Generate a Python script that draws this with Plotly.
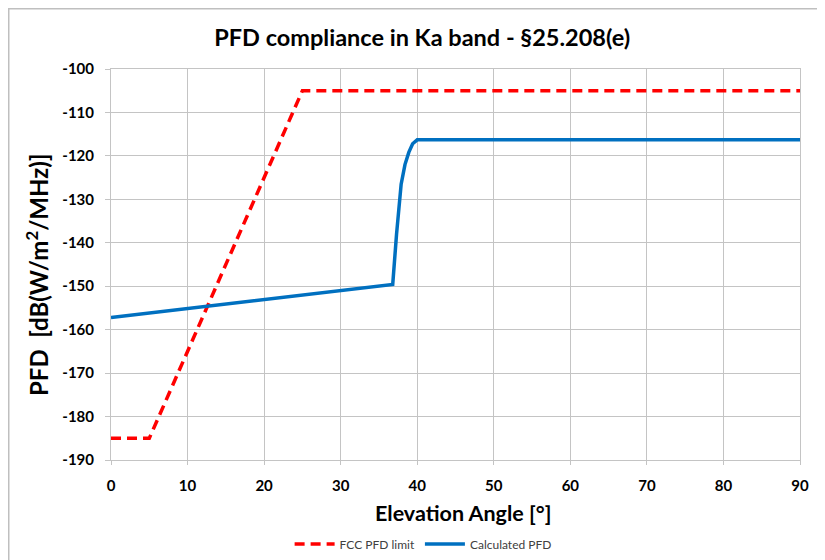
"""PFD compliance plot."""

import plotly.graph_objects as go

# FCC PFD limit (dB(W/m2/MHz)) vs elevation angle (deg)
ELEV_FCC = [0, 5, 25, 90]
PFD_FCC = [-185, -185, -105, -105]

# Calculated PFD
ELEV_CALC = [0, 36.8, 37.3, 37.9, 38.4, 38.9, 39.4, 40, 90]
PFD_CALC = [-157.2, -149.6, -138, -126.5, -122, -119.2, -117.2, -116.3, -116.3]

# Tick labels (plain hyphen, as in the reference)
Y_TICKS = [-190, -180, -170, -160, -150, -140, -130, -120, -110, -100]
Y_TICK_TEXT = ["-190", "-180", "-170", "-160", "-150",
               "-140", "-130", "-120", "-110", "-100"]
X_TICKS = [0, 10, 20, 30, 40, 50, 60, 70, 80, 90]

FONT = "Lato, Open Sans, sans-serif"
GRID = "#C4C4C4"

fig = go.Figure()
fig.add_trace(
    go.Scatter(
        x=ELEV_FCC,
        y=PFD_FCC,
        mode="lines",
        name="FCC PFD limit",
        line=dict(color="#FF0000", width=3.5, dash="10px,6px"),
    )
)
fig.add_trace(
    go.Scatter(
        x=ELEV_CALC,
        y=PFD_CALC,
        mode="lines",
        name="Calculated PFD",
        line=dict(color="#0070C0", width=3.5),
    )
)

axis_style = dict(
    showgrid=True,
    gridcolor=GRID,
    showline=True,
    linecolor=GRID,
    mirror=True,
    ticks="outside",
    tickcolor=GRID,
    zeroline=False,
    automargin=False,
    tickfont=dict(size=15, color="#000000", family=FONT, weight="bold"),
)
fig.update_xaxes(range=[0, 90], tickvals=X_TICKS, ticklen=4,
                 ticklabelstandoff=8, **axis_style)
fig.update_yaxes(range=[-190, -100], tickvals=Y_TICKS, ticktext=Y_TICK_TEXT,
                 ticklen=5, ticklabelstandoff=8, **axis_style)

fig.update_layout(
    width=817,
    height=552,
    plot_bgcolor="white",
    paper_bgcolor="white",
    margin=dict(l=103, r=25, t=61, b=100, autoexpand=False),
    title=dict(
        text="PFD compliance in Ka band - §25.208(e)",
        x=0.507,
        xanchor="center",
        y=0.9457,
        yanchor="middle",
        font=dict(size=23.5, color="#000000", family=FONT, weight="bold"),
    ),
    annotations=[
        dict(
            text="Elevation Angle [°]",
            xref="paper",
            yref="paper",
            x=0.511,
            y=-0.1355,
            xanchor="center",
            yanchor="middle",
            showarrow=False,
            font=dict(size=21.5, color="#000000", family=FONT, weight="bold"),
        ),
        dict(
            text="PFD  [dB(W/m<sup>2</sup>/MHz)]",
            xref="paper",
            yref="paper",
            x=-0.1074,
            y=0.473,
            xanchor="center",
            yanchor="middle",
            textangle=-90,
            showarrow=False,
            font=dict(size=24, color="#000000", family=FONT, weight="bold"),
        ),
    ],
    legend=dict(
        orientation="h",
        x=0.453,
        xanchor="center",
        y=-0.215,
        yanchor="middle",
        font=dict(size=12, color="#404040", family=FONT),
        itemwidth=40,
    ),
    shapes=[
        dict(
            type="rect",
            xref="paper",
            yref="paper",
            x0=-0.1484,
            x1=1.2,
            y0=-0.5,
            y1=1.154,
            line=dict(color="#BFBFBF", width=1.5),
            fillcolor="rgba(0,0,0,0)",
            layer="below",
        )
    ],
)

fig.write_html("out.html")
